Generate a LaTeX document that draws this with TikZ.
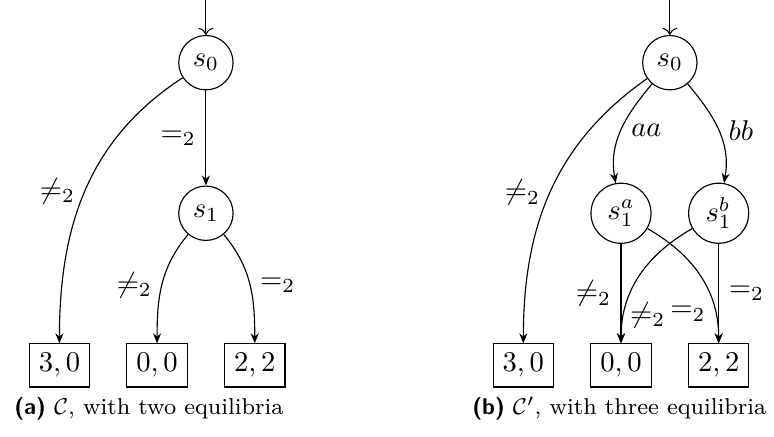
\documentclass[tikz,border=0pt]{standalone}
\usepackage{amsmath, amssymb}
\usetikzlibrary{arrows.meta}

\begin{document}
\begin{tikzpicture}[
    state/.style={draw, circle, minimum size=19pt, inner sep=1pt},
    wide state/.style={state, minimum size=21pt},
    payoff/.style={draw, rectangle},
    move/.style={-{Stealth[length=3.5pt, width=2.8pt]}}
  ]
    \useasboundingbox (0,0) rectangle (9.51,-5.36);
    % (a) the game C
    \begin{scope}[shift={(2.53,-0.77)}]
      \coordinate (l-in) at (0,0.77);
      \node[state] (l-s0) at (0,0) {$s_0$};
      \node[state] (l-s1) at (0,-1.85) {$s_1$};
      \node[payoff] (l-30) at (-1.8,-3.72) {$3,0$};
      \node[payoff] (l-00) at (-0.6,-3.72) {$0,0$};
      \node[payoff] (l-22) at (0.6,-3.72) {$2,2$};
      \draw[->] (l-in) -- (l-s0);
      \draw[move] (l-s0) -- node[left] {$=_2$} (l-s1);
      \draw[move] (l-s0) to[out=-147, in=90] node[left] {$\neq_2$} (l-30);
      \draw[move] (l-s1) to[out=-130, in=90] node[left] {$\neq_2$} (l-00);
      \draw[move] (l-s1) to[out=-50, in=90] node[right] {$=_2$} (l-22);
      \node (l-cap) at (-0.7,-4.25) {\footnotesize\textsf{\textbf{(a)}} $\mathcal{C}$, with two equilibria};
    \end{scope}
    % (b) the game C'
    \begin{scope}[shift={(8.23,-0.77)}]
      \coordinate (r-in) at (0,0.77);
      \node[state] (r-s0) at (0,0) {$s_0$};
      \node[wide state] (r-sa) at (-0.6,-1.85) {$s_1^a$};
      \node[wide state] (r-sb) at (0.6,-1.85) {$s_1^b$};
      \node[payoff] (r-30) at (-1.8,-3.72) {$3,0$};
      \node[payoff] (r-00) at (-0.6,-3.72) {$0,0$};
      \node[payoff] (r-22) at (0.6,-3.72) {$2,2$};
      \draw[->] (r-in) -- (r-s0);
      \draw[move] (r-s0) to[out=-145, in=90] node[left] {$\neq_2$} (r-30);
      \draw[move] (r-s0) to[out=-130, in=100] node[right] {$aa$} (r-sa);
      \draw[move] (r-s0) to[out=-50, in=80] node[right] {$bb$} (r-sb);
      \draw[move] (r-sa) -- node[left] {$\neq_2$} (r-00);
      \draw[move] (r-sb) -- node[right] {$=_2$} (r-22);
      \draw[move] (r-sa) to[out=-30, in=90] node[left, pos=0.8] {$=_2$} (r-22);
      \draw[move] (r-sb) to[out=-150, in=90] node[right, pos=0.81, inner sep=2pt] {$\neq_2$} (r-00);
      \node (r-cap) at (-0.62,-4.25) {\footnotesize\textsf{\textbf{(b)}} $\mathcal{C}'$, with three equilibria};
    \end{scope}
\end{tikzpicture}
\end{document}
